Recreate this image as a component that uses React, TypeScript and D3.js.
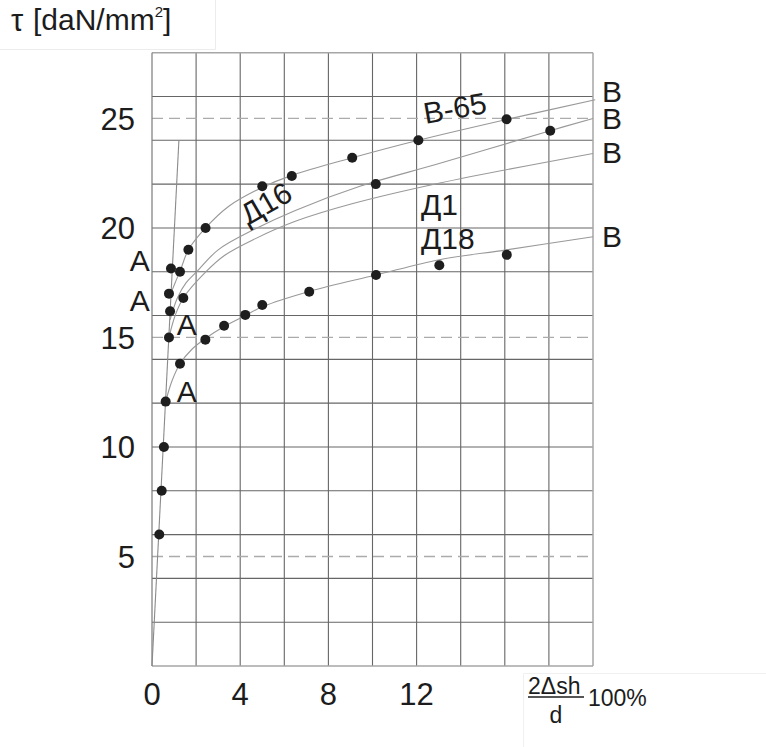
import * as d3 from 'd3';

const W = 766;
const H = 747;
const PLOT = { left: 152, right: 593, top: 52.7, bottom: 666 };
const FONT = '"Liberation Sans", Arial, Helvetica, sans-serif';
const INK = '#1c1c1c';

// axis ranges (x: 2Δsh/d·100 %, y: τ daN/mm²)
const X_DOMAIN: [number, number] = [0, 20];
const Y_DOMAIN: [number, number] = [0, 28];
const X_TICKS = [0, 4, 8, 12];
const Y_TICKS = [5, 10, 15, 20, 25];
const DASHED_Y = [5, 15, 25];

// elastic straight line from the origin
const elastic: [number, number][] = [[0, 0], [1.22, 24.0]];

// material curves
const curveB65: [number, number][] = [
  [0.85, 17.0], [1.05, 17.5], [1.3, 18.1], [1.65, 19.0], [2.43, 20.0], [3.5, 21.0],
  [5.0, 21.85], [6.34, 22.4], [9.08, 23.2], [12.08, 24.0], [16.08, 24.95], [20.1, 25.85],
];
const curveD16: [number, number][] = [
  [0.82, 15.8], [1.15, 16.8], [1.55, 17.5], [2.03, 18.0], [3.0, 19.0], [4.67, 19.95],
  [6.5, 20.8], [9.43, 21.9], [13.06, 22.95], [18.06, 24.44], [20.0, 25.0],
];
const curveD1: [number, number][] = [
  [0.77, 15.0], [1.05, 16.0], [1.42, 16.8], [2.45, 18.0], [3.3, 18.75], [4.67, 19.5],
  [6.5, 20.3], [9.07, 21.1], [13.06, 22.05], [20.0, 23.4],
];
const curveD18: [number, number][] = [
  [0.62, 12.07], [0.9, 13.0], [1.27, 13.8], [1.8, 14.45], [2.42, 14.95], [3.27, 15.5],
  [4.23, 16.0], [5.0, 16.4], [7.13, 17.1], [10.16, 17.85], [13.03, 18.55], [16.09, 19.0],
  [20.0, 19.6],
];

// measured points
const dotsX = [
  0.33, 0.44, 0.54, 0.62, 0.77, 0.82, 0.77, 0.86,
  1.27, 1.27, 1.42, 1.65, 2.43, 2.42, 3.27, 4.23, 5.0, 7.13, 10.16, 13.03, 16.09,
  5.0, 6.34, 9.08, 12.08, 16.08, 18.06, 10.15,
];
const dotsY = [
  6.0, 8.0, 10.0, 12.07, 15.0, 16.2, 17.0, 18.15,
  13.8, 18.0, 16.8, 19.0, 20.0, 14.9, 15.53, 16.03, 16.48, 17.09, 17.85, 18.3, 18.77,
  21.9, 22.37, 23.2, 24.0, 24.96, 24.44, 22.0,
];

// point markers A (left / right of the elastic line) and B (at the right edge)
const labelA = [
  { x: -0.1, y: 18.05, anchor: 'end' },
  { x: -0.1, y: 16.2, anchor: 'end' },
  { x: 1.12, y: 15.1, anchor: 'start' },
  { x: 1.12, y: 12.07, anchor: 'start' },
];
const labelBY = [25.75, 24.5, 22.95, 19.15];

const materials = [
  { text: 'В-65', x: 12.4, y: 24.75, rot: -10 },
  { text: 'Д16', x: 4.35, y: 20.1, rot: -30 },
  { text: 'Д1', x: 12.2, y: 20.6, rot: 0 },
  { text: 'Д18', x: 12.2, y: 19.05, rot: 0 },
];

export default function App() {
  const x = d3.scaleLinear().domain(X_DOMAIN).range([PLOT.left, PLOT.right]);
  const y = d3.scaleLinear().domain(Y_DOMAIN).range([PLOT.bottom, PLOT.top]);

  const smooth = d3
    .line<[number, number]>()
    .x((d) => x(d[0]))
    .y((d) => y(d[1]))
    .curve(d3.curveCatmullRom.alpha(0.5));
  const straight = d3
    .line<[number, number]>()
    .x((d) => x(d[0]))
    .y((d) => y(d[1]));

  const gridX = d3.range(2, 20, 2);
  const gridY = d3.range(2, 28, 2);

  return (
    <svg
      width={W}
      height={H}
      viewBox={`0 0 ${W} ${H}`}
      style={{ position: 'absolute', left: 0, top: 0, background: '#fff' }}
      fontFamily={FONT}
    >
      {/* faint boxes left from the pasted captions */}
      <path d="M0,49.5H215.5V0" fill="none" stroke="#ececec" />
      <path d="M523.5,747V673.5H766" fill="none" stroke="#f0f0f0" />

      {/* grid */}
      {gridY.map((v) => (
        <line key={`gy${v}`} x1={PLOT.left} x2={PLOT.right} y1={y(v)} y2={y(v)} stroke="#666" strokeWidth={1.1} />
      ))}
      {gridX.map((v) => (
        <line key={`gx${v}`} x1={x(v)} x2={x(v)} y1={PLOT.top} y2={PLOT.bottom} stroke="#666" strokeWidth={1.1} />
      ))}
      {DASHED_Y.map((v) => (
        <line key={`dy${v}`} x1={PLOT.left} x2={PLOT.right} y1={y(v)} y2={y(v)} stroke="#ababab" strokeWidth={1.3} strokeDasharray="11,6" />
      ))}
      {/* frame */}
      <line x1={PLOT.left} x2={PLOT.right} y1={PLOT.top} y2={PLOT.top} stroke="#a6a6a6" strokeWidth={1.5} />
      <line x1={PLOT.left} x2={PLOT.right} y1={PLOT.bottom} y2={PLOT.bottom} stroke="#a6a6a6" strokeWidth={1.5} />
      <line x1={PLOT.right} x2={PLOT.right} y1={PLOT.top} y2={PLOT.bottom} stroke="#a6a6a6" strokeWidth={1.5} />
      <line x1={PLOT.left} x2={PLOT.left} y1={PLOT.top} y2={PLOT.bottom} stroke="#7a7a7a" strokeWidth={1.2} />

      {/* curves */}
      <path d={straight(elastic) ?? ''} fill="none" stroke="#8a8a8a" strokeWidth={1.1} />
      {[curveB65, curveD16, curveD1, curveD18].map((c, i) => (
        <path key={`c${i}`} d={smooth(c) ?? ''} fill="none" stroke="#999" strokeWidth={1.1} />
      ))}

      {/* points */}
      {dotsX.map((dx, i) => (
        <circle key={`p${i}`} cx={x(dx)} cy={y(dotsY[i])} r={5} fill="#1e1e1e" />
      ))}

      {/* y ticks */}
      {Y_TICKS.map((v) => (
        <text key={`yt${v}`} x={135} y={y(v)} dy="0.36em" textAnchor="end" fontSize={31} fill={INK}>
          {v}
        </text>
      ))}
      {/* x ticks */}
      {X_TICKS.map((v) => (
        <text key={`xt${v}`} x={x(v)} y={705} textAnchor="middle" fontSize={31} fill={INK}>
          {v}
        </text>
      ))}

      {/* A / B marks */}
      {labelA.map((l, i) => (
        <text key={`a${i}`} x={x(l.x)} y={y(l.y)} textAnchor={l.anchor as 'start' | 'end'} fontSize={30} fill={INK}>
          A
        </text>
      ))}
      {labelBY.map((v, i) => (
        <text key={`b${i}`} x={602} y={y(v)} fontSize={30} fill={INK}>
          B
        </text>
      ))}

      {/* material names */}
      {materials.map((m) => (
        <text
          key={m.text}
          transform={`translate(${x(m.x)},${y(m.y)}) rotate(${m.rot})`}
          fontSize={30}
          fill={INK}
        >
          {m.text}
        </text>
      ))}

      {/* y title */}
      <text x={11} y={31} fontSize={31} fill={INK}>τ</text>
      <text x={33} y={30} fontSize={30} fill={INK}>
        [daN/mm<tspan fontSize={15} dy={-13}>2</tspan>
        <tspan dy={13}>]</tspan>
      </text>

      {/* x title */}
      <text x={528} y={694} fontSize={23} fill={INK}>2Δsh</text>
      <line x1={528} x2={584} y1={697} y2={697} stroke={INK} strokeWidth={1.3} />
      <text x={556} y={723} textAnchor="middle" fontSize={23} fill={INK}>d</text>
      <text x={588} y={706} fontSize={23} fill={INK}>100%</text>
    </svg>
  );
}
